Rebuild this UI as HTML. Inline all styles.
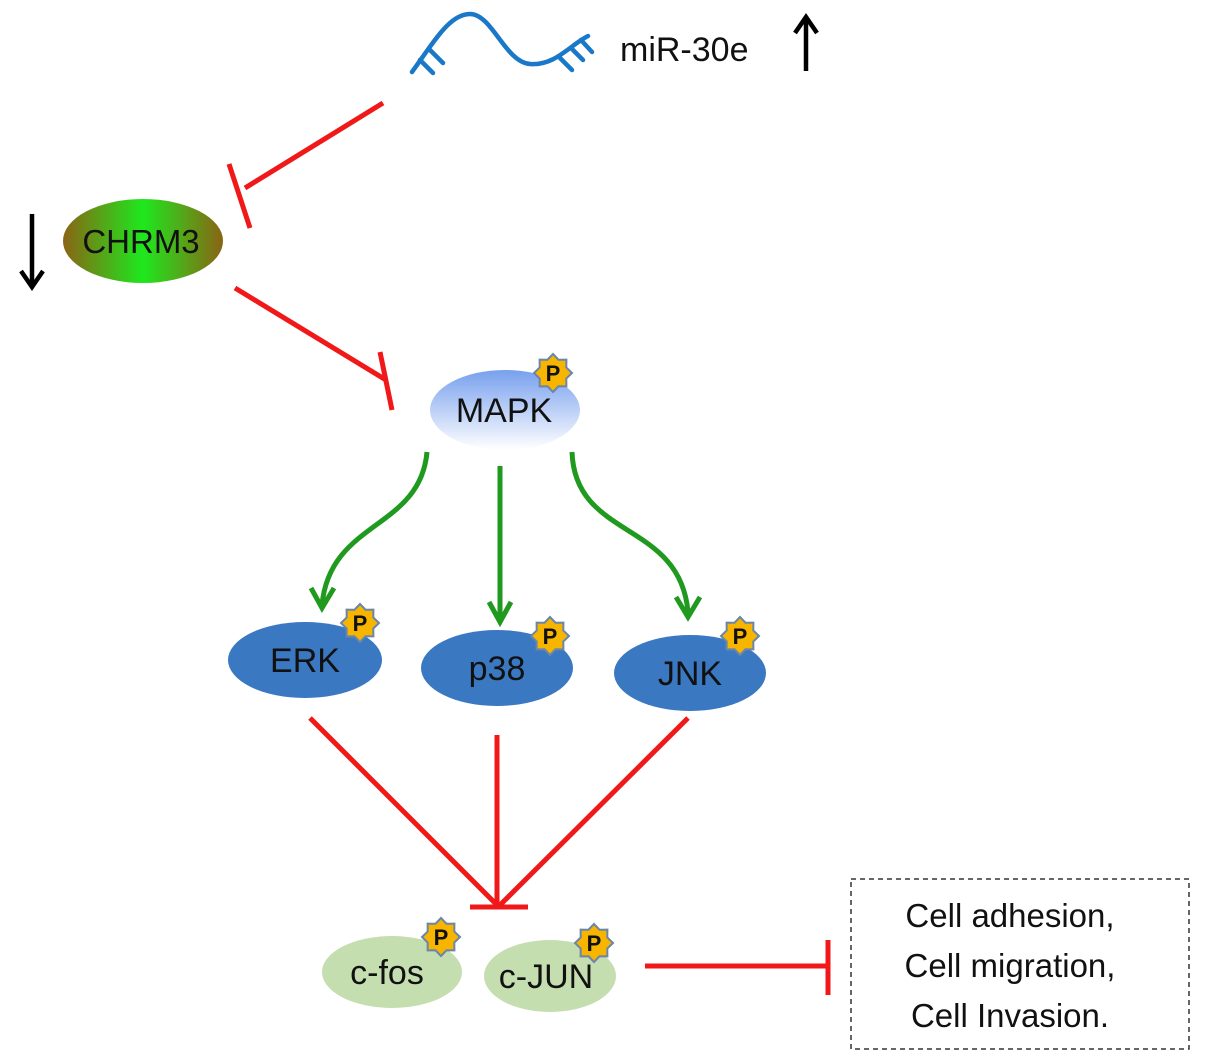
<!DOCTYPE html>
<html><head><meta charset="utf-8"><style>
html,body{margin:0;padding:0;background:#fff;}
svg{display:block;}
text{font-family:"Liberation Sans",Arial,sans-serif;}
</style></head><body>
<svg width="1205" height="1063" viewBox="0 0 1205 1063" xmlns="http://www.w3.org/2000/svg">
<defs>
<linearGradient id="gC" x1="0" y1="0" x2="1" y2="0">
<stop offset="0" stop-color="#8a6414"/><stop offset="0.5" stop-color="#1ee81e"/><stop offset="1" stop-color="#8a6414"/>
</linearGradient>
<linearGradient id="gM" x1="0" y1="0" x2="0" y2="1">
<stop offset="0" stop-color="#78a0ee"/><stop offset="1" stop-color="#ffffff"/>
</linearGradient>
<g id="P">
<polygon points="0,-19 5.5,-13.3 13.4,-13.4 13.3,-5.5 19,0 13.3,5.5 13.4,13.4 5.5,13.3 0,19 -5.5,13.3 -13.4,13.4 -13.3,5.5 -19,0 -13.3,-5.5 -13.4,-13.4 -5.5,-13.3" fill="#f7b500" stroke="#6a86a8" stroke-width="2"/>
<text x="0" y="8" text-anchor="middle" font-size="22" font-weight="bold" fill="#111">P</text>
</g>
</defs>

<!-- RNA -->
<g fill="none" stroke="#1a78c8" stroke-width="4.5" stroke-linecap="round">
<path d="M412,72 C435,40 450,14 470,14 C492,14 505,62 530,64 C555,66 570,45 588,36"/>
<path d="M420,60 L433,73 M430,50 L443,63"/>
<path d="M571,48 L583,60 M581,40 L592,52 M560,58 L572,70"/>
</g>
<text x="620" y="61" font-size="34" fill="#111">miR-30e</text>
<g stroke="#000" stroke-width="4.5" fill="none">
<path d="M806,71 L806,18"/><path d="M795,33 L806,17 L817,33"/>
<path d="M32,214 L32,286"/><path d="M21,271 L32,287 L43,271"/>
</g>

<!-- Red inhibition lines -->
<g stroke="#f01818" stroke-width="5" fill="none">
<path d="M383,103 L245,188"/><path d="M229,164 L250,228"/>
<path d="M235,288 L386,380"/><path d="M380,352 L392,410"/>
<path d="M310,718 L497,905"/><path d="M497,735 L497,905"/><path d="M688,718 L500,905"/>
<path d="M470,907 L528,907"/>
<path d="M645,966 L828,966"/><path d="M828,940 L828,995"/>
</g>

<!-- Green arrows -->
<g stroke="#1f9a1f" stroke-width="5" fill="none">
<path d="M427,452 C420,530 330,520 322,605"/>
<path d="M311,588 L322,608 L334,588"/>
<path d="M500,466 L500,620"/>
<path d="M489,602 L500,622 L511,602"/>
<path d="M572,452 C575,540 680,520 688,612"/>
<path d="M676,597 L688,617 L700,597"/>
</g>

<!-- Nodes -->
<ellipse cx="143" cy="241" rx="80" ry="42" fill="url(#gC)"/>
<text x="141" y="253" font-size="33" text-anchor="middle" fill="#111">CHRM3</text>

<ellipse cx="505" cy="410" rx="75" ry="40" fill="url(#gM)"/>
<text x="504" y="422" font-size="34" text-anchor="middle" fill="#111">MAPK</text>
<use href="#P" x="553" y="373"/>

<ellipse cx="305" cy="660" rx="77" ry="38" fill="#3a78c2"/>
<text x="305" y="672" font-size="34" text-anchor="middle" fill="#111">ERK</text>
<use href="#P" x="360" y="623"/>

<ellipse cx="497" cy="668" rx="76" ry="38" fill="#3a78c2"/>
<text x="497" y="680" font-size="34" text-anchor="middle" fill="#111">p38</text>
<use href="#P" x="550" y="636"/>

<ellipse cx="690" cy="673" rx="76" ry="38" fill="#3a78c2"/>
<text x="690" y="685" font-size="34" text-anchor="middle" fill="#111">JNK</text>
<use href="#P" x="740" y="636"/>

<ellipse cx="392" cy="972" rx="70" ry="36" fill="#c5deb0"/>
<text x="387" y="984" font-size="34" text-anchor="middle" fill="#111">c-fos</text>
<use href="#P" x="441" y="937"/>

<ellipse cx="550" cy="976" rx="66" ry="36" fill="#c5deb0"/>
<text x="546" y="988" font-size="34" text-anchor="middle" fill="#111">c-JUN</text>
<use href="#P" x="594" y="943"/>

<!-- Box -->
<rect x="851" y="879" width="338" height="170" fill="none" stroke="#333" stroke-width="1.5" stroke-dasharray="5,4"/>
<text x="1010" y="927" font-size="33" text-anchor="middle" fill="#111">Cell adhesion,</text>
<text x="1010" y="977" font-size="33" text-anchor="middle" fill="#111">Cell migration,</text>
<text x="1010" y="1027" font-size="33" text-anchor="middle" fill="#111">Cell Invasion.</text>
</svg>
</body></html>
